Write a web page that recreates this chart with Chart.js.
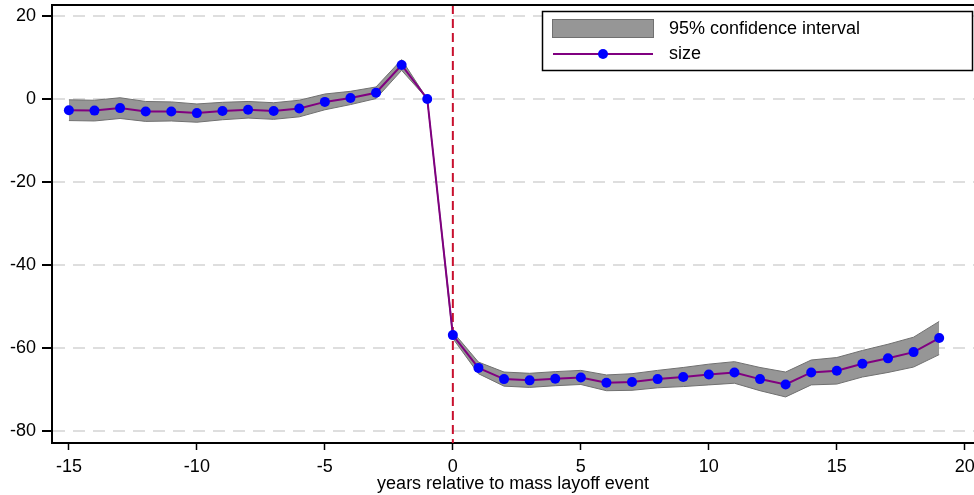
<!DOCTYPE html>
<html>
<head>
<meta charset="utf-8">
<title>Mass layoff event study</title>
<script src="https://cdn.jsdelivr.net/npm/chart.js@4.4.1/dist/chart.umd.min.js"></script>
<style>
    html, body { margin: 0; padding: 0; background: #fff; }
    #wrap { width: 974px; height: 495px; position: relative; }
</style>
</head>
<body>
<div id="wrap"><canvas id="chart"></canvas></div>
<script>
// Event time, years relative to the mass layoff
const years = [-15, -14, -13, -12, -11, -10, -9, -8, -7, -6, -5, -4, -3, -2, -1,
               0, 1, 2, 3, 4, 5, 6, 7, 8, 9, 10, 11, 12, 13, 14, 15, 16, 17, 18, 19];

// Point estimates
const size = [-2.7, -2.8, -2.2, -3.0, -3.0, -3.4, -2.9, -2.6, -2.9, -2.3, -0.7, 0.25, 1.5, 8.2, 0,
              -56.9, -64.8, -67.5, -67.8, -67.4, -67.1, -68.4, -68.2, -67.5, -67.0,
              -66.4, -65.9, -67.5, -68.8, -65.9, -65.5, -63.8, -62.5, -61.0, -57.6];

// 95% confidence bounds
const ciUpper = [-0.2, -0.3, 0.3, -0.6, -0.7, -1.2, -0.8, -0.6, -0.9, -0.3, 1.2, 1.85, 2.9, 9.5, 0,
                 -56.1, -63.4, -65.8, -66.1, -65.7, -65.4, -66.5, -66.2, -65.4, -64.7,
                 -63.9, -63.3, -64.7, -65.8, -62.9, -62.3, -60.6, -59.1, -57.4, -53.6];
const ciLower = [-5.2, -5.3, -4.7, -5.4, -5.3, -5.6, -5.0, -4.6, -4.9, -4.3, -2.6, -1.35, 0.1, 6.9, 0,
                 -57.7, -66.2, -69.2, -69.5, -69.1, -68.8, -70.3, -70.2, -69.6, -69.3,
                 -68.9, -68.5, -70.3, -71.8, -68.9, -68.7, -67.0, -65.9, -64.6, -61.6];

// Axis ticks
const xTicks = [-15, -10, -5, 0, 5, 10, 15, 20];
const yTicks = [20, 0, -20, -40, -60, -80];
const eventYear = 0;

const FONT = 'Liberation Sans, Arial, sans-serif';
const FONT_SIZE = 18;
const BAND_FILL = 'rgb(150,150,150)';
const BAND_EDGE = 'rgb(112,112,112)';
const LINE_COLOR = '#800080';
const DOT_COLOR = '#0000ff';

function pts(values) {
    return years.map((x, i) => ({ x: x, y: values[i] }));
}

// Dashed vertical line at the event year, top border of the plot box
const eventLine = {
    id: 'eventLine',
    beforeDatasetsDraw(chart) {
        const { ctx, chartArea, scales } = chart;
        const x = scales.x.getPixelForValue(eventYear);
        ctx.save();
        ctx.strokeStyle = 'rgb(200,16,46)';
        ctx.lineWidth = 2;
        ctx.setLineDash([9, 5]);
        ctx.beginPath();
        ctx.moveTo(x, chartArea.top);
        ctx.lineTo(x, chartArea.bottom);
        ctx.stroke();
        ctx.restore();
    },
    afterDraw(chart) {
        const { ctx, chartArea } = chart;
        ctx.save();
        ctx.strokeStyle = '#000';
        ctx.lineWidth = 2;
        ctx.beginPath();
        ctx.moveTo(chartArea.left - 1, chartArea.top);
        ctx.lineTo(chartArea.right, chartArea.top);
        ctx.stroke();
        ctx.restore();
    }
};

// Boxed legend in the upper right corner
const boxLegend = {
    id: 'boxLegend',
    afterDraw(chart) {
        const ctx = chart.ctx;
        const bx = 542.5, by = 11.5, bw = 430, bh = 59;
        ctx.save();
        ctx.fillStyle = '#fff';
        ctx.fillRect(bx, by, bw, bh);
        ctx.strokeStyle = '#000';
        ctx.lineWidth = 1.5;
        ctx.strokeRect(bx, by, bw, bh);

        ctx.fillStyle = BAND_FILL;
        ctx.fillRect(552.5, 19.5, 101, 18);
        ctx.strokeStyle = BAND_EDGE;
        ctx.lineWidth = 1;
        ctx.strokeRect(552.5, 19.5, 101, 18);

        ctx.strokeStyle = LINE_COLOR;
        ctx.lineWidth = 2;
        ctx.beginPath();
        ctx.moveTo(553, 54);
        ctx.lineTo(653, 54);
        ctx.stroke();
        ctx.fillStyle = DOT_COLOR;
        ctx.beginPath();
        ctx.arc(603, 54, 5, 0, Math.PI * 2);
        ctx.fill();

        ctx.fillStyle = '#000';
        ctx.font = FONT_SIZE + 'px ' + FONT;
        ctx.textBaseline = 'middle';
        ctx.textAlign = 'left';
        ctx.fillText('95% confidence interval', 669, 29);
        ctx.fillText('size', 669, 54);
        ctx.restore();
    }
};

const ctx = document.getElementById('chart').getContext('2d');
new Chart(ctx, {
    type: 'line',
    data: {
        datasets: [
            {
                label: 'upper',
                data: pts(ciUpper),
                borderColor: BAND_EDGE,
                borderWidth: 1,
                backgroundColor: BAND_FILL,
                fill: '+1',
                pointRadius: 0,
                tension: 0,
                order: 2
            },
            {
                label: '95% confidence interval',
                data: pts(ciLower),
                borderColor: BAND_EDGE,
                borderWidth: 1,
                backgroundColor: BAND_FILL,
                fill: false,
                pointRadius: 0,
                tension: 0,
                order: 1
            },
            {
                label: 'size',
                data: pts(size),
                borderColor: LINE_COLOR,
                borderWidth: 2,
                fill: false,
                pointRadius: 5,
                pointBackgroundColor: DOT_COLOR,
                pointBorderWidth: 0,
                tension: 0,
                order: 0
            }
        ]
    },
    options: {
        responsive: true,
        maintainAspectRatio: false,
        animation: false,
        layout: {
            autoPadding: false,
            padding: { top: 5, right: 0, left: 0, bottom: 0 }
        },
        plugins: {
            legend: { display: false },
            tooltip: { enabled: false }
        },
        scales: {
            x: {
                type: 'linear',
                min: -15.66,
                max: 20.36,
                afterBuildTicks: s => { s.ticks = xTicks.map(v => ({ value: v })); },
                afterFit: s => {
                    s.height = 52;
                    s.paddingLeft = 0;
                    s.paddingRight = 0;
                },
                grid: {
                    drawOnChartArea: false,
                    tickLength: 7,
                    tickColor: '#000',
                    tickWidth: 1.5
                },
                border: { color: '#000', width: 2 },
                ticks: {
                    color: '#000',
                    font: { family: FONT, size: FONT_SIZE },
                    padding: 6,
                    maxRotation: 0
                },
                title: {
                    display: true,
                    text: 'years relative to mass layoff event',
                    color: '#000',
                    font: { family: FONT, size: FONT_SIZE },
                    padding: { top: 0, bottom: 0 }
                }
            },
            y: {
                min: -82.9,
                max: 22.65,
                afterBuildTicks: s => { s.ticks = yTicks.map(v => ({ value: v })); },
                afterFit: s => {
                    s.width = 52;
                    s.paddingTop = 0;
                    s.paddingBottom = 0;
                },
                grid: {
                    color: 'rgb(222,222,222)',
                    lineWidth: 2,
                    tickLength: 10,
                    tickColor: '#000',
                    tickWidth: 2,
                    tickBorderDash: []
                },
                border: { color: '#000', width: 2, dash: [12, 8] },
                ticks: {
                    color: '#000',
                    font: { family: FONT, size: FONT_SIZE },
                    padding: 6
                }
            }
        }
    },
    plugins: [eventLine, boxLegend]
});
</script>
</body>
</html>
